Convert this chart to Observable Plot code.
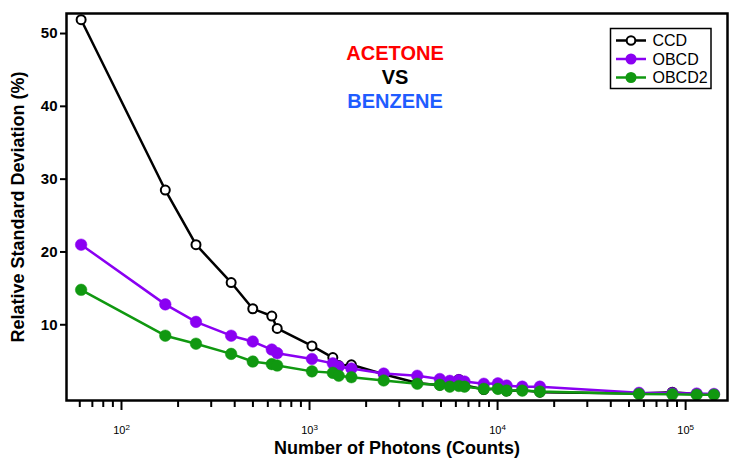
<!DOCTYPE html>
<html>
<head>
<meta charset="utf-8">
<script src="https://cdn.jsdelivr.net/npm/d3@7"></script>
<script src="https://cdn.jsdelivr.net/npm/@observablehq/plot@0.6"></script>
<style>
  html, body { margin: 0; padding: 0; background: #fff; }
  #chart { width: 740px; height: 460px; }
</style>
</head>
<body>
<div id="chart"></div>
<script>
// Photon counts (x values, shared by the three series)
const photons = [61, 171, 249, 383, 499, 630, 673, 1030, 1330, 1430, 1670, 2480, 3740, 4930, 5570, 6220, 6670, 8450, 10040, 11170, 13530, 16790, 56500, 85000, 114500, 141500];
// Relative standard deviation (%) per series
const ccd   = [51.9, 28.5, 21.0, 15.8, 12.2, 11.2, 9.5, 7.1, 5.5, 4.4, 4.5, 3.2, 2.0, 1.7, 1.6, 2.5, 1.7, 1.1, 1.2, 0.9, 1.0, 0.75, 0.55, 0.75, 0.5, 0.45];
const obcd  = [21.0, 12.8, 10.4, 8.5, 7.7, 6.6, 6.1, 5.3, 4.7, 4.25, 4.0, 3.3, 3.0, 2.55, 2.3, 2.4, 2.2, 1.9, 1.95, 1.65, 1.5, 1.5, 0.65, 0.6, 0.55, 0.5];
const obcd2 = [14.8, 8.5, 7.4, 6.0, 4.95, 4.6, 4.4, 3.6, 3.4, 3.0, 2.8, 2.35, 1.9, 1.75, 1.5, 1.6, 1.5, 1.2, 1.2, 0.96, 0.96, 0.83, 0.5, 0.45, 0.4, 0.4];

const seriesNames = ["CCD", "OBCD", "OBCD2"];
const seriesColors = ["#000000", "#8a00f2", "#109810"];
const yTicks = [10, 20, 30, 40, 50];
const xMajorTicks = [100, 1000, 10000, 100000];
const xMinorTicks = [60, 70, 80, 90, 200, 300, 400, 500, 600, 700, 800, 900, 2000, 3000, 4000, 5000, 6000, 7000, 8000, 9000, 20000, 30000, 40000, 50000, 60000, 70000, 80000, 90000];
const titleLines = ["ACETONE", "VS", "BENZENE"];
const titleColors = ["#ff0000", "#000000", "#1f5cff"];
const xLabel = "Number of Photons (Counts)";
const yLabel = "Relative Standard Deviation (%)";

const table = (vals, name) => photons.map((x, i) => ({x, y: vals[i], series: name}));
const dCCD = table(ccd, seriesNames[0]);
const dOBCD = table(obcd, seriesNames[1]);
const dOBCD2 = table(obcd2, seriesNames[2]);

const font = "Arial, 'Liberation Sans', Helvetica, sans-serif";

const chart = Plot.plot({
  width: 740,
  height: 460,
  marginLeft: 66,
  marginRight: 13,
  marginTop: 13,
  marginBottom: 60,
  style: {fontFamily: font, background: "#fff", color: "#000", overflow: "visible"},
  x: {type: "log", domain: [51, 167000]},
  y: {domain: [-0.4, 52.75]},
  marks: [
    Plot.axisY({ticks: yTicks, tickSize: 6, tickPadding: 3, fontSize: 15, fontWeight: "bold", strokeWidth: 2, label: null}),
    Plot.axisX({ticks: xMinorTicks, tickSize: 7, tickFormat: () => "", strokeWidth: 2, label: null}),
    Plot.axisX({ticks: xMajorTicks, tickSize: 10, tickPadding: 16, fontSize: 11, strokeWidth: 2, label: null,
      tickFormat: d => "10^" + Math.round(Math.log10(d))}),
    Plot.line(dCCD, {x: "x", y: "y", stroke: seriesColors[0], strokeWidth: 2.5}),
    Plot.dot(dCCD, {x: "x", y: "y", r: 4.5, stroke: seriesColors[0], strokeWidth: 2, fill: "white"}),
    Plot.line(dOBCD, {x: "x", y: "y", stroke: seriesColors[1], strokeWidth: 2.5}),
    Plot.dot(dOBCD, {x: "x", y: "y", r: 5.8, fill: seriesColors[1], stroke: seriesColors[1], strokeWidth: 0.5}),
    Plot.line(dOBCD2, {x: "x", y: "y", stroke: seriesColors[2], strokeWidth: 2.5}),
    Plot.dot(dOBCD2, {x: "x", y: "y", r: 5.8, fill: seriesColors[2], stroke: seriesColors[2], strokeWidth: 0.5}),
    Plot.text(titleLines, {text: d => d, frameAnchor: "top", dy: 32, dx: -2, fontSize: 20, fontWeight: "bold",
      fill: titleColors[0], filter: (d, i) => i === 0}),
    Plot.text(titleLines, {text: d => d, frameAnchor: "top", dy: 56, dx: -2, fontSize: 20, fontWeight: "bold",
      fill: titleColors[1], filter: (d, i) => i === 1}),
    Plot.text(titleLines, {text: d => d, frameAnchor: "top", dy: 80, dx: -2, fontSize: 20, fontWeight: "bold",
      fill: titleColors[2], filter: (d, i) => i === 2}),
    Plot.text([yLabel], {text: d => d, frameAnchor: "left", textAnchor: "middle", lineAnchor: "middle", dx: -48, rotate: -90,
      fontSize: 18, fontWeight: "bold", fill: "#000"}),
    Plot.text([xLabel], {text: d => d, frameAnchor: "bottom", textAnchor: "middle", lineAnchor: "middle", dy: 48,
      fontSize: 18, fontWeight: "bold", fill: "#000"}),
    Plot.frame({stroke: "#000", strokeWidth: 2.5})
  ]
});

document.getElementById("chart").appendChild(chart);

const svg = d3.select(chart);
// Drop the empty labels of the minor ticks; superscript exponents of the major ones
svg.selectAll('g[aria-label="x-axis tick label"] text').each(function() {
  const t = this.textContent;
  if (t === "") { this.remove(); return; }
  const m = /^10\^(\d+)$/.exec(t);
  if (m) {
    const sel = d3.select(this);
    sel.text("10");
    sel.append("tspan").attr("dy", "-0.55em").attr("font-size", "8px").text(m[1]);
  }
});

// Legend box (top-right, inside the frame)
const lg = svg.append("g").attr("font-family", font);
const lx = 610.5, ly = 28.5, lw = 100.5, lh = 60;
lg.append("rect").attr("x", lx).attr("y", ly).attr("width", lw).attr("height", lh)
  .attr("fill", "white").attr("stroke", "#000").attr("stroke-width", 1.5);
seriesNames.forEach((name, i) => {
  const cy = ly + 12 + i * 18.5;
  lg.append("line").attr("x1", lx + 5.5).attr("x2", lx + 35.5).attr("y1", cy).attr("y2", cy)
    .attr("stroke", seriesColors[i]).attr("stroke-width", 2.5);
  if (i === 0) {
    lg.append("circle").attr("cx", lx + 20.5).attr("cy", cy).attr("r", 4.3)
      .attr("fill", "white").attr("stroke", "#000").attr("stroke-width", 2);
  } else {
    lg.append("circle").attr("cx", lx + 20.5).attr("cy", cy).attr("r", 5.5).attr("fill", seriesColors[i]);
  }
  lg.append("text").attr("x", lx + 42).attr("y", cy).attr("dy", "0.36em").attr("text-anchor", "start")
    .attr("font-size", 16).attr("fill", "#000").text(name);
});
</script>
</body>
</html>
